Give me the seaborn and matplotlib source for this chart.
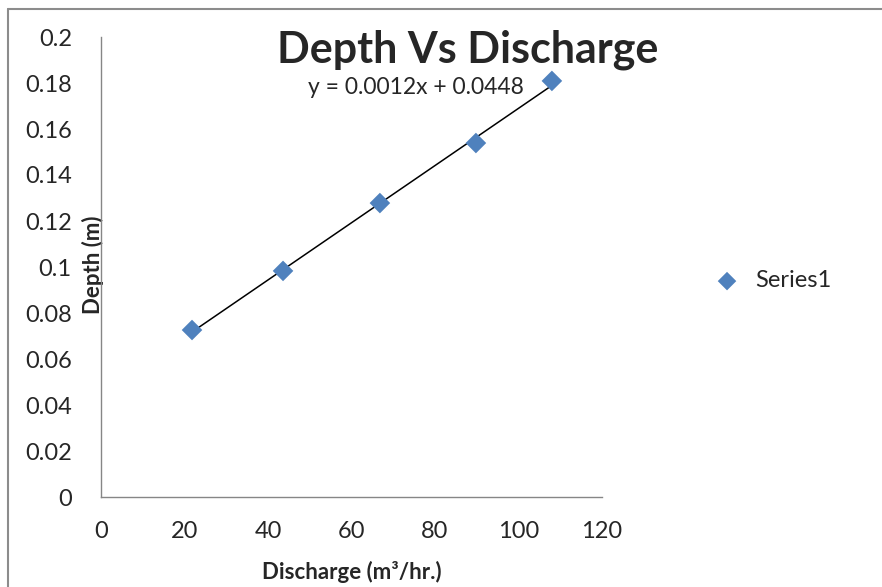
import numpy as np
import pandas as pd
import matplotlib
matplotlib.use("Agg")
import matplotlib.pyplot as plt
import seaborn as sns
from matplotlib.lines import Line2D

# Data
discharge = [21.8, 43.6, 66.8, 89.8, 108.0]
depth = [0.0726, 0.0983, 0.1278, 0.1539, 0.1809]
x_ticks = [0, 20, 40, 60, 80, 100, 120]
y_ticks = [0, 0.02, 0.04, 0.06, 0.08, 0.1, 0.12, 0.14, 0.16, 0.18, 0.2]
y_tick_labels = ['0', '0.02', '0.04', '0.06', '0.08', '0.1', '0.12', '0.14', '0.16', '0.18', '0.2']

df = pd.DataFrame({'Discharge': discharge, 'Depth': depth})

sns.set_style("white")
plt.rcParams['font.family'] = ['Lato', 'DejaVu Sans']

fig = plt.figure(figsize=(8.82, 5.87), dpi=100)
ax = fig.add_axes([101/882, 90/587, 501/882, 460/587])

# Trendline (linear fit, like Excel)
sns.regplot(data=df, x='Discharge', y='Depth', scatter=False, ci=None,
            color='black', line_kws={'lw': 1.1}, ax=ax)
sns.scatterplot(data=df, x='Discharge', y='Depth', marker='D', s=110,
                color='#4F81BD', edgecolor='none', label='Series1', ax=ax, zorder=3)

ax.set_xlim(0, 120)
ax.set_ylim(0, 0.2)
ax.set_xticks(x_ticks)
ax.set_yticks(y_ticks)
ax.set_yticklabels(y_tick_labels)
ax.tick_params(axis='both', direction='out', length=5, width=1, color='#868686',
               labelsize=17)
ax.tick_params(axis='y', pad=16)
ax.tick_params(axis='x', pad=12)
for side in ['top', 'right']:
    ax.spines[side].set_visible(False)
for side in ['left', 'bottom']:
    ax.spines[side].set_color('#868686')
    ax.spines[side].set_linewidth(1)

ax.set_xlabel('Discharge (m³/hr.)', fontsize=16, fontweight='bold', labelpad=14)
ax.set_ylabel('Depth (m)', fontsize=16, fontweight='bold')
ax.yaxis.set_label_coords(0.006, 0.505)

fig.text(468/882, 1 - 50/587, 'Depth Vs Discharge', fontsize=31, fontweight='bold',
         ha='center', va='center')
ax.text(416/882, 1 - 88/587, 'y = 0.0012x + 0.0448', fontsize=16.5,
        ha='center', va='center', transform=fig.transFigure)

ax.legend(loc='center left', bbox_to_anchor=(1.16, 0.47), frameon=False,
          fontsize=17, handletextpad=0.2, markerscale=0.9)

# outer chart border
fig.add_artist(Line2D([8/882, 8/882], [0, 1 - 9/587], color='#8c8c8c', lw=1.5,
                      transform=fig.transFigure))
fig.add_artist(Line2D([8/882, 1], [1 - 9/587, 1 - 9/587], color='#8c8c8c', lw=1.5,
                      transform=fig.transFigure))

fig.savefig('out.png', dpi=100)
